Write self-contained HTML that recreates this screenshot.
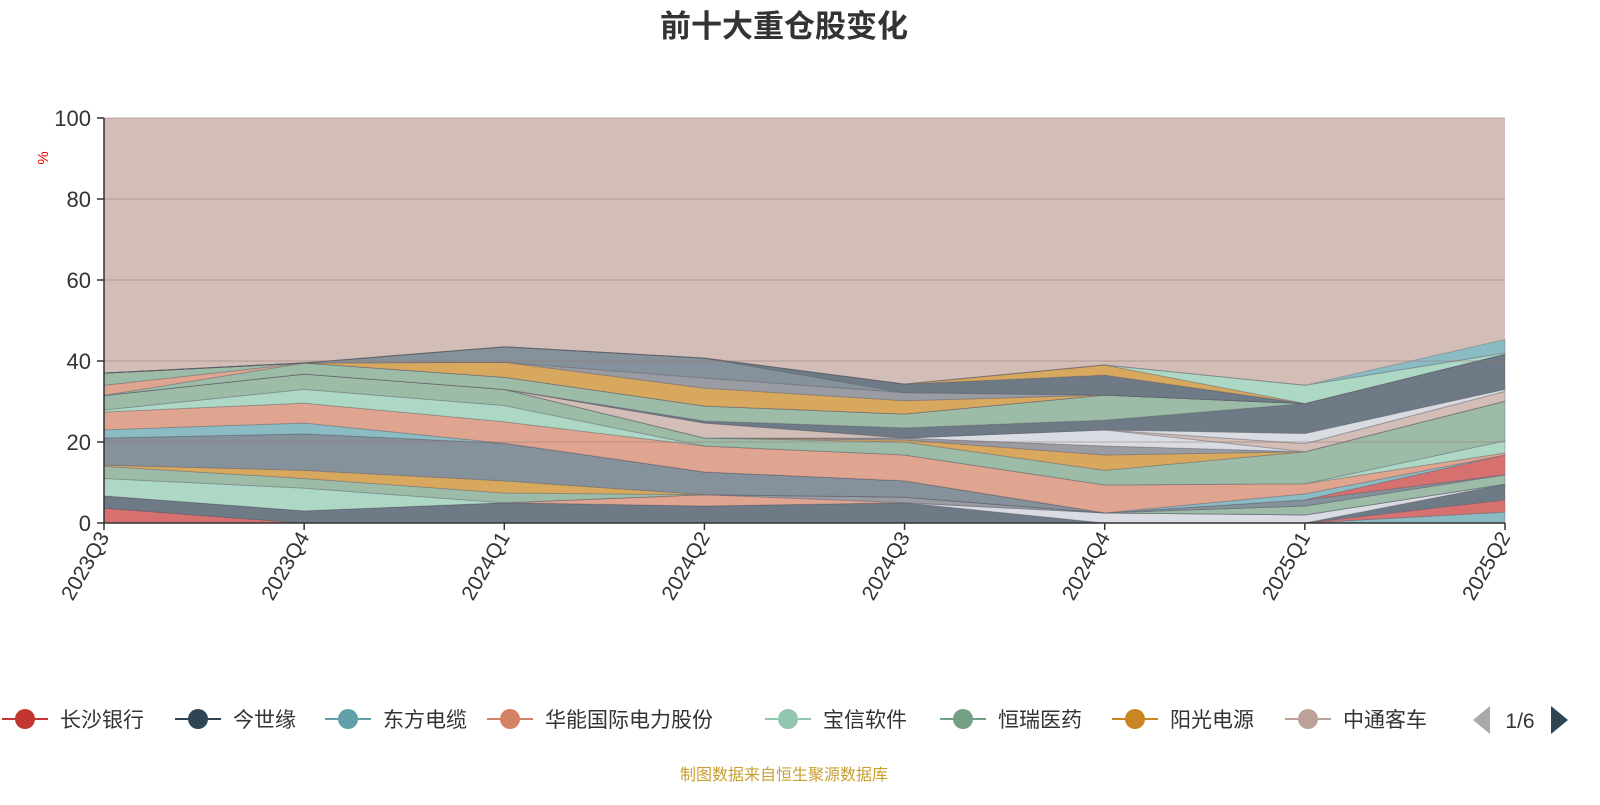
<!DOCTYPE html>
<html><head><meta charset="utf-8"><style>
body{margin:0;background:#fff;}
svg text{font-family:"Liberation Sans","Noto Sans CJK SC",sans-serif;}
</style></head><body>
<svg id="c" width="1600" height="800" xmlns="http://www.w3.org/2000/svg">
<text x="784" y="37" text-anchor="middle" font-size="31" font-weight="bold" fill="#333">前十大重仓股变化</text>
<rect x="104" y="118" width="1401" height="405" fill="#d2bdb7"/>
<g id="areas"></g>
<g id="grid"></g>
<g id="axes"></g>
<text transform="translate(48,158) rotate(-90)" text-anchor="middle" font-size="15" fill="#e00">%</text>
<g id="legend"></g>
<path d="M1490,706 L1473,720 L1490,734 Z" fill="#aaa"/>
<text x="1520" y="728" text-anchor="middle" font-size="21" fill="#333">1/6</text>
<path d="M1551,706 L1568,720 L1551,734 Z" fill="#2f4554"/>
<text x="784" y="780" text-anchor="middle" font-size="16" fill="#c8a032">制图数据来自恒生聚源数据库</text>
</svg>
<script>
const categories=["2023Q3","2023Q4","2024Q1","2024Q2","2024Q3","2024Q4","2025Q1","2025Q2"];
const yTicks=[0,20,40,60,80,100];
const layerNames=["长沙银行","东方电缆-a","长沙银行-b","今世缘","layer-white-a","华能-a","layer-gray-a","宝信软件-a","恒瑞医药-a","阳光电源-a","grayblue-a","red-c","东方电缆-b","华能国际电力股份","宝信软件-b","恒瑞医药-b","阳光电源-b","gray-b","white-b","中通客车-a","white-c","今世缘-b","恒瑞医药-c","华能-top","恒瑞-top","阳光-top","gray-top","grayblue-top","darkgray-top","orange-top2","宝信-top","东方电缆-top"];
const layerColors=["#d7716f","#8bbcc3","#d7716f","#6e7b87","#d9dce3","#e0a590","#9a9ca3","#aed8c6","#9dbca8","#d9a85f","#85929b","#d7716f","#8bbcc3","#e0a590","#aed8c6","#9dbca8","#d9a85f","#9a9ca3","#d9dce3","#d2bdb7","#d9dce3","#6e7b87","#9dbca8","#e0a590","#9dbca8","#d9a85f","#9a9ca3","#85929b","#6e7b87","#d9a85f","#aed8c6","#8bbcc3"];
const v00=[3.7,0,0,0,0,0,0,0];
const v01=[0,0,0,0,0,0,0,2.7];
const v02=[0,0,0,0,0,0,0,3.0];
const v03=[3.0,3.0,5.0,4.2,5,0,0,3.9];
const v04=[0,0,0,0,0,2.5,2,0];
const v05=[0,0,0,2.8,0,0,0,0];
const v06=[0,0,0,0,1.4,0,0,0];
const v07=[4.3,5.6,0,0,0,0,0,0];
const v08=[3,2.4,2.4,0,0,0,2.2,2.3];
const v09=[0.3,2,3,0,0,0,0,0];
const v10=[6.7,9,9.3,5.6,4,0,1.5,0];
const v11=[0,0,0,0,0,0,0,4.9];
const v12=[2,2.7,0,0,0,0,1.5,0];
const v13=[4.4,4.9,5.3,6.4,6.4,6.9,2.5,0.5];
const v14=[0.5,3.4,4,0,0,0,0,3];
const v15=[3.6,3.8,4,2,3.2,3.6,7.9,9.8];
const v16=[0,0,0,0,0.5,3.8,0,0];
const v17=[0,0,0,0,0.5,2.2,0,0];
const v18=[0,0,0,0,0,4,0,0];
const v19=[0,0,0,3.7,0,0,2,2.4];
const v20=[0,0,0,0,0,0,2.5,0.5];
const v21=[0,0,0,0.5,2.5,2.4,7.4,8.7];
const v22=[0,2.7,3,3.7,3.4,6.2,0,0];
const v23=[2.5,0,0,0,0,0,0,0];
const v24=[3,0,0,0,0,0,0,0];
const v25=[0,0,3.7,4.4,3.3,0,0,0];
const v26=[0,0,0,2.5,2,0,0,0];
const v27=[0,0,3.8,4.9,0,0,0,0];
const v28=[0,0,0,0,2.1,4.9,0,0];
const v29=[0,0,0,0,0,2.5,0,0];
const v30=[0,0,0,0,0,0,4.5,0.3];
const v31=[0,0,0,0,0,0,0,3.3];
const series=[v00,v01,v02,v03,v04,v05,v06,v07,v08,v09,v10,v11,v12,v13,v14,v15,v16,v17,v18,v19,v20,v21,v22,v23,v24,v25,v26,v27,v28,v29,v30,v31];
const legendNames=["长沙银行","今世缘","东方电缆","华能国际电力股份","宝信软件","恒瑞医药","阳光电源","中通客车"];
const legendColors=["#c23531","#2f4554","#61a0a8","#d48265","#91c7ae","#749f83","#ca8622","#bda29a"];

const NS="http://www.w3.org/2000/svg";
const X0=104,X1=1505,Y0=523,Y1=118;
const xs=i=>X0+(X1-X0)*i/(categories.length-1);
const ys=v=>Y0-(Y0-Y1)*v/100;
function mk(tag,attrs,parent){const e=document.createElementNS(NS,tag);for(const k in attrs)e.setAttribute(k,attrs[k]);parent.appendChild(e);return e;}
const areas=document.getElementById('areas');
let base=categories.map(()=>0);
series.forEach((vals,si)=>{
  const top=base.map((b,i)=>b+vals[i]);
  let d="M"+categories.map((c,i)=>xs(i)+","+ys(top[i])).join(" L");
  for(let i=categories.length-1;i>=0;i--)d+=" L"+xs(i)+","+ys(base[i]);
  d+=" Z";
  const p=mk('path',{d:d,fill:layerColors[si],stroke:"rgba(90,90,100,0.35)","stroke-width":"1"},areas);
  
  
  base=top;
});
const grid=document.getElementById('grid');
yTicks.forEach(t=>{
  if(t>0){const l=mk('line',{x1:X0,x2:X1,y1:ys(t),y2:ys(t),stroke:"rgba(150,120,115,0.35)","stroke-width":"1.5"},grid);
  
  }
});
const axes=document.getElementById('axes');
const ya=mk('line',{x1:X0,x2:X0,y1:Y1,y2:Y0,stroke:"#333","stroke-width":"1.5"},axes);


const xa=mk('line',{x1:X0,x2:X1,y1:Y0,y2:Y0,stroke:"#333","stroke-width":"1.5"},axes);


yTicks.forEach(t=>{
  mk('line',{x1:X0-7,x2:X0,y1:ys(t),y2:ys(t),stroke:"#333","stroke-width":"1.5"},axes);
  const tx=mk('text',{x:X0-13,y:ys(t)+8,"text-anchor":"end","font-size":"22",fill:"#333"},axes);
  tx.textContent=t;
  
  
});
categories.forEach((c,i)=>{
  mk('line',{x1:xs(i),x2:xs(i),y1:Y0,y2:Y0+7,stroke:"#333","stroke-width":"1.5"},axes);
  const tx=mk('text',{transform:"translate("+(xs(i)+6)+","+(Y0+14)+") rotate(-60)","text-anchor":"end","font-size":"21",fill:"#333"},axes);
  tx.textContent=c;
  
  
});
const lx=[2,175,325,487,765,940,1112,1285];
const legend=document.getElementById('legend');
legendNames.forEach((n,i)=>{
  const g=mk('g',{},legend);
  
  
  mk('line',{x1:lx[i],x2:lx[i]+46,y1:719,y2:719,stroke:legendColors[i],"stroke-width":"2"},g);
  mk('circle',{cx:lx[i]+23,cy:719,r:10,fill:legendColors[i]},g);
  const t=mk('text',{x:lx[i]+58,y:727,"font-size":"21",fill:"#333"},g);
  t.textContent=n;
});
</script>
</body></html>
